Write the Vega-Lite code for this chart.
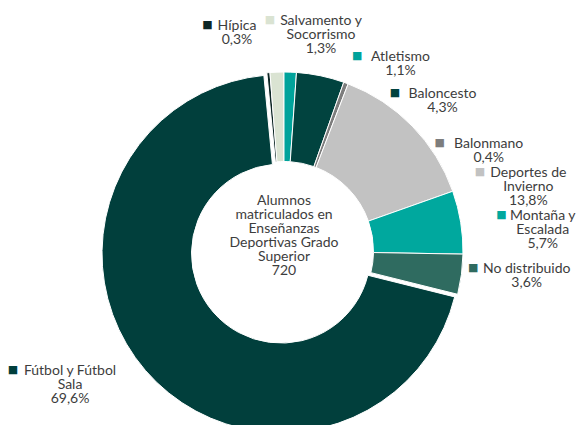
{
  "$schema": "https://vega.github.io/schema/vega-lite/v6.json",
  "width": 568,
  "height": 502,
  "padding": {"left": 0, "top": 0, "right": 11, "bottom": 0},
  "autosize": "none",
  "background": "white",
  "config": {"view": {"stroke": null}},
  "datasets": {
    "matricula": [
      {"categoria": "Hípica", "etiqueta": "Hípica\n0,3%", "porcentaje": 0.3, "alumnos": 2},
      {"categoria": "Salvamento y Socorrismo", "etiqueta": "Salvamento y\nSocorrismo\n1,3%", "porcentaje": 1.3, "alumnos": 9},
      {"categoria": "Atletismo", "etiqueta": "Atletismo\n1,1%", "porcentaje": 1.1, "alumnos": 8},
      {"categoria": "Baloncesto", "etiqueta": "Baloncesto\n4,3%", "porcentaje": 4.3, "alumnos": 31},
      {"categoria": "Balonmano", "etiqueta": "Balonmano\n0,4%", "porcentaje": 0.4, "alumnos": 3},
      {"categoria": "Deportes de Invierno", "etiqueta": "Deportes de\nInvierno\n13,8%", "porcentaje": 13.8, "alumnos": 99},
      {"categoria": "Montaña y Escalada", "etiqueta": "Montaña y\nEscalada\n5,7%", "porcentaje": 5.7, "alumnos": 41},
      {"categoria": "No distribuido", "etiqueta": "No distribuido\n3,6%", "porcentaje": 3.6, "alumnos": 26},
      {"categoria": "Fútbol y Fútbol Sala", "etiqueta": "Fútbol y Fútbol\nSala\n69,6%", "porcentaje": 69.6, "alumnos": 501}
    ],
    "titulo": [
      {"texto": "Alumnos\nmatriculados en\nEnseñanzas\nDeportivas Grado\nSuperior"}
    ]
  },
  "layer": [
    {
      "data": {"name": "matricula"},
      "transform": [
        {"window": [{"op": "row_number", "as": "orden"}]},
        {"stack": "alumnos", "groupby": [], "sort": [{"field": "orden", "order": "ascending"}], "as": ["v0", "v1"]}
      ],
      "encoding": {
        "theta": {"field": "v0", "type": "quantitative", "scale": {"domain": [0, 720], "range": [-0.096, 6.1872]}},
        "color": {
          "field": "categoria", "type": "nominal", "legend": null,
          "scale": {
            "domain": ["Hípica", "Salvamento y Socorrismo", "Atletismo", "Baloncesto", "Balonmano", "Deportes de Invierno", "Montaña y Escalada", "No distribuido", "Fútbol y Fútbol Sala"],
            "range": ["#0d2624", "#dae3d2", "#00a39b", "#01433f", "#7d7d7d", "#c2c2c2", "#00a89e", "#2f6b60", "#013f3c"]
          }
        }
      },
      "layer": [
        {
          "transform": [{"filter": "datum.categoria !== 'Fútbol y Fútbol Sala'"}],
          "mark": {"type": "arc", "outerRadius": 179, "innerRadius": 89.5, "stroke": "white", "strokeWidth": 1},
          "encoding": {"theta2": {"field": "v1"}}
        },
        {
          "transform": [{"filter": "datum.categoria === 'Fútbol y Fútbol Sala'"}],
          "mark": {"type": "arc", "outerRadius": 179, "innerRadius": 89.5, "stroke": "white", "strokeWidth": 1, "xOffset": -3, "yOffset": 2.6},
          "encoding": {"theta2": {"field": "v1"}}
        },
        {
          "transform": [{"filter": "datum.categoria === 'Hípica'"}],
          "layer": [
            {"mark": {"type": "text", "text": "■", "font": "DejaVu Sans", "fontSize": 11, "align": "center", "baseline": "middle", "radius": 226.4, "thetaOffset": -0.1131, "dx": -29.5, "dy": -5}},
            {"mark": {"type": "text", "font": "Lato", "fontSize": 14, "lineHeight": 14, "lineBreak": "\n", "align": "center", "baseline": "alphabetic", "radius": 226.4, "thetaOffset": -0.1131}, "encoding": {"text": {"field": "etiqueta"}, "color": {"value": "#3d3d3d"}}}
          ]
        },
        {
          "transform": [{"filter": "datum.categoria === 'Salvamento y Socorrismo'"}],
          "layer": [
            {"mark": {"type": "text", "text": "■", "font": "DejaVu Sans", "fontSize": 11, "align": "center", "baseline": "middle", "radius": 229.0, "thetaOffset": 0.2409, "dx": -51, "dy": -5}},
            {"mark": {"type": "text", "font": "Lato", "fontSize": 14, "lineHeight": 14, "lineBreak": "\n", "align": "center", "baseline": "alphabetic", "radius": 229.0, "thetaOffset": 0.2409}, "encoding": {"text": {"field": "etiqueta"}, "color": {"value": "#3d3d3d"}}}
          ]
        },
        {
          "transform": [{"filter": "datum.categoria === 'Atletismo'"}],
          "layer": [
            {"mark": {"type": "text", "text": "■", "font": "DejaVu Sans", "fontSize": 11, "align": "center", "baseline": "middle", "radius": 223.1, "thetaOffset": 0.5493, "dx": -43.2, "dy": -5}},
            {"mark": {"type": "text", "font": "Lato", "fontSize": 14, "lineHeight": 14, "lineBreak": "\n", "align": "center", "baseline": "alphabetic", "radius": 223.1, "thetaOffset": 0.5493}, "encoding": {"text": {"field": "etiqueta"}, "color": {"value": "#3d3d3d"}}}
          ]
        },
        {
          "transform": [{"filter": "datum.categoria === 'Baloncesto'"}],
          "layer": [
            {"mark": {"type": "text", "text": "■", "font": "DejaVu Sans", "fontSize": 11, "align": "center", "baseline": "middle", "radius": 220.1, "thetaOffset": 0.7343, "dx": -47.5, "dy": -5}},
            {"mark": {"type": "text", "font": "Lato", "fontSize": 14, "lineHeight": 14, "lineBreak": "\n", "align": "center", "baseline": "alphabetic", "radius": 220.1, "thetaOffset": 0.7343}, "encoding": {"text": {"field": "etiqueta"}, "color": {"value": "#3d3d3d"}}}
          ]
        },
        {
          "transform": [{"filter": "datum.categoria === 'Balonmano'"}],
          "layer": [
            {"mark": {"type": "text", "text": "■", "font": "DejaVu Sans", "fontSize": 11, "align": "center", "baseline": "middle", "radius": 229.0, "thetaOffset": 0.7655, "dx": -49, "dy": -5}},
            {"mark": {"type": "text", "font": "Lato", "fontSize": 14, "lineHeight": 14, "lineBreak": "\n", "align": "center", "baseline": "alphabetic", "radius": 229.0, "thetaOffset": 0.7655}, "encoding": {"text": {"field": "etiqueta"}, "color": {"value": "#3d3d3d"}}}
          ]
        },
        {
          "transform": [{"filter": "datum.categoria === 'Deportes de Invierno'"}],
          "layer": [
            {"mark": {"type": "text", "text": "■", "font": "DejaVu Sans", "fontSize": 11, "align": "center", "baseline": "middle", "radius": 255.2, "thetaOffset": 0.9112, "dx": -48.3, "dy": -5}},
            {"mark": {"type": "text", "font": "Lato", "fontSize": 14, "lineHeight": 14, "lineBreak": "\n", "align": "center", "baseline": "alphabetic", "radius": 255.2, "thetaOffset": 0.9112}, "encoding": {"text": {"field": "etiqueta"}, "color": {"value": "#3d3d3d"}}}
          ]
        },
        {
          "transform": [{"filter": "datum.categoria === 'Montaña y Escalada'"}],
          "layer": [
            {"mark": {"type": "text", "text": "■", "font": "DejaVu Sans", "fontSize": 11, "align": "center", "baseline": "middle", "radius": 260.6, "thetaOffset": 0.2211, "dx": -41.3, "dy": -5}},
            {"mark": {"type": "text", "font": "Lato", "fontSize": 14, "lineHeight": 14, "lineBreak": "\n", "align": "center", "baseline": "alphabetic", "radius": 260.6, "thetaOffset": 0.2211}, "encoding": {"text": {"field": "etiqueta"}, "color": {"value": "#3d3d3d"}}}
          ]
        },
        {
          "transform": [{"filter": "datum.categoria === 'No distribuido'"}],
          "layer": [
            {"mark": {"type": "text", "text": "■", "font": "DejaVu Sans", "fontSize": 11, "align": "center", "baseline": "middle", "radius": 243.7, "thetaOffset": 0.0742, "dx": -53.4, "dy": -5}},
            {"mark": {"type": "text", "font": "Lato", "fontSize": 14, "lineHeight": 14, "lineBreak": "\n", "align": "center", "baseline": "alphabetic", "radius": 243.7, "thetaOffset": 0.0742}, "encoding": {"text": {"field": "etiqueta"}, "color": {"value": "#3d3d3d"}}}
          ]
        },
        {
          "transform": [{"filter": "datum.categoria === 'Fútbol y Fútbol Sala'"}],
          "layer": [
            {"mark": {"type": "text", "text": "■", "font": "DejaVu Sans", "fontSize": 11, "align": "center", "baseline": "middle", "radius": 247.3, "thetaOffset": 2.3721, "dx": -57, "dy": -5}},
            {"mark": {"type": "text", "font": "Lato", "fontSize": 14, "lineHeight": 14, "lineBreak": "\n", "align": "center", "baseline": "alphabetic", "radius": 247.3, "thetaOffset": 2.3721}, "encoding": {"text": {"field": "etiqueta"}, "color": {"value": "#3d3d3d"}}}
          ]
        }
      ]
    },
    {
      "data": {"name": "titulo"},
      "mark": {"type": "text", "font": "Lato", "fontSize": 14, "lineHeight": 14, "lineBreak": "\n", "align": "center", "baseline": "alphabetic", "color": "#3d3d3d", "dy": -45.6},
      "encoding": {"text": {"field": "texto"}}
    },
    {
      "data": {"name": "matricula"},
      "mark": {"type": "text", "font": "Lato", "fontSize": 14, "align": "center", "baseline": "alphabetic", "color": "#3d3d3d", "dy": 24.4},
      "encoding": {"text": {"aggregate": "sum", "field": "alumnos", "type": "quantitative"}}
    }
  ]
}
